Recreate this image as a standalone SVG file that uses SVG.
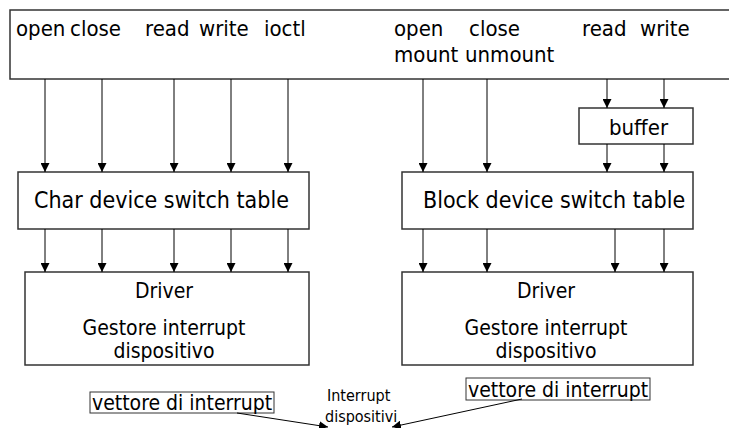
<svg xmlns="http://www.w3.org/2000/svg" width="729" height="428" viewBox="0 0 729 428">
<defs>
<style>
.box{fill:#fff;stroke:#333;stroke-width:1.5}
.ln{stroke:#000;stroke-width:1;fill:none}
.t{font-family:"DejaVu Sans Condensed","DejaVu Sans",sans-serif;fill:#000}
.t21{font-size:21px}
.t23{font-size:23px}
.t22{font-size:22px}
.t17{font-size:16px}
</style>
<marker id="ah" viewBox="0 0 10 10" refX="10" refY="5" markerWidth="9" markerHeight="9" markerUnits="userSpaceOnUse" orient="auto">
<path d="M0,0 L10,5 L0,10 z" fill="#000"/>
</marker>
</defs>
<rect width="729" height="428" fill="#fff"/>
<g id="syscalls">
<rect class="box" x="10" y="10" width="730" height="69"/>
<text class="t t22" x="16" y="36">open</text>
<text class="t t22" x="70" y="36">close</text>
<text class="t t22" x="145" y="36">read</text>
<text class="t t22" x="199" y="36">write</text>
<text class="t t22" x="264" y="36">ioctl</text>
<text class="t t22" x="394" y="36">open</text>
<text class="t t22" x="469" y="36">close</text>
<text class="t t22" x="394" y="62">mount</text>
<text class="t t22" x="465" y="62">unmount</text>
<text class="t t22" x="582" y="36">read</text>
<text class="t t22" x="640" y="36">write</text>
</g>
<g id="buffer">
<rect class="box" x="579" y="108" width="114" height="36"/>
<text class="t t22" x="609" y="135">buffer</text>
</g>
<g id="char-switch">
<rect class="box" x="18" y="172" width="291" height="57"/>
<text class="t t23" x="34" y="208">Char device switch table</text>
</g>
<g id="block-switch">
<rect class="box" x="402" y="172" width="291" height="57"/>
<text class="t t23" x="423" y="208">Block device switch table</text>
</g>
<g id="char-driver">
<rect class="box" x="25" y="272" width="284" height="93"/>
<text class="t t21" x="164" y="298" text-anchor="middle">Driver</text>
<text class="t t21" x="164" y="335" text-anchor="middle">Gestore interrupt</text>
<text class="t t21" x="164" y="358" text-anchor="middle">dispositivo</text>
</g>
<g id="block-driver">
<rect class="box" x="402" y="272" width="291" height="93"/>
<text class="t t21" x="546" y="298" text-anchor="middle">Driver</text>
<text class="t t21" x="546" y="335" text-anchor="middle">Gestore interrupt</text>
<text class="t t21" x="546" y="358" text-anchor="middle">dispositivo</text>
</g>
<g id="vettore-left">
<rect class="box" x="90" y="392" width="184" height="21" style="stroke-width:1"/>
<text class="t t21" x="92" y="410">vettore di interrupt</text>
</g>
<g id="vettore-right">
<rect class="box" x="466" y="378" width="184" height="22" style="stroke-width:1"/>
<text class="t t21" x="468" y="397">vettore di interrupt</text>
</g>
<g id="interrupt-label">
<text class="t t17" x="327" y="401">Interrupt</text>
<text class="t t17" x="325" y="422">dispositivi</text>
</g>
<g id="connectors">
<line class="ln" x1="45" y1="79" x2="45" y2="172" marker-end="url(#ah)"/>
<line class="ln" x1="102" y1="79" x2="102" y2="172" marker-end="url(#ah)"/>
<line class="ln" x1="174" y1="79" x2="174" y2="172" marker-end="url(#ah)"/>
<line class="ln" x1="231" y1="79" x2="231" y2="172" marker-end="url(#ah)"/>
<line class="ln" x1="288" y1="79" x2="288" y2="172" marker-end="url(#ah)"/>
<line class="ln" x1="45" y1="229" x2="45" y2="272" marker-end="url(#ah)"/>
<line class="ln" x1="102" y1="229" x2="102" y2="272" marker-end="url(#ah)"/>
<line class="ln" x1="174" y1="229" x2="174" y2="272" marker-end="url(#ah)"/>
<line class="ln" x1="231" y1="229" x2="231" y2="272" marker-end="url(#ah)"/>
<line class="ln" x1="288" y1="229" x2="288" y2="272" marker-end="url(#ah)"/>
<line class="ln" x1="423" y1="79" x2="423" y2="172" marker-end="url(#ah)"/>
<line class="ln" x1="487" y1="79" x2="487" y2="172" marker-end="url(#ah)"/>
<line class="ln" x1="607" y1="79" x2="607" y2="108" marker-end="url(#ah)"/>
<line class="ln" x1="664" y1="79" x2="664" y2="108" marker-end="url(#ah)"/>
<line class="ln" x1="607" y1="144" x2="607" y2="172" marker-end="url(#ah)"/>
<line class="ln" x1="664" y1="144" x2="664" y2="172" marker-end="url(#ah)"/>
<line class="ln" x1="423" y1="229" x2="423" y2="272" marker-end="url(#ah)"/>
<line class="ln" x1="487" y1="229" x2="487" y2="272" marker-end="url(#ah)"/>
<line class="ln" x1="615" y1="229" x2="615" y2="272" marker-end="url(#ah)"/>
<line class="ln" x1="664" y1="229" x2="664" y2="272" marker-end="url(#ah)"/>
<line class="ln" x1="237" y1="413" x2="328" y2="427" marker-end="url(#ah)"/>
<line class="ln" x1="522" y1="399" x2="392" y2="427" marker-end="url(#ah)"/>
</g>
</svg>
